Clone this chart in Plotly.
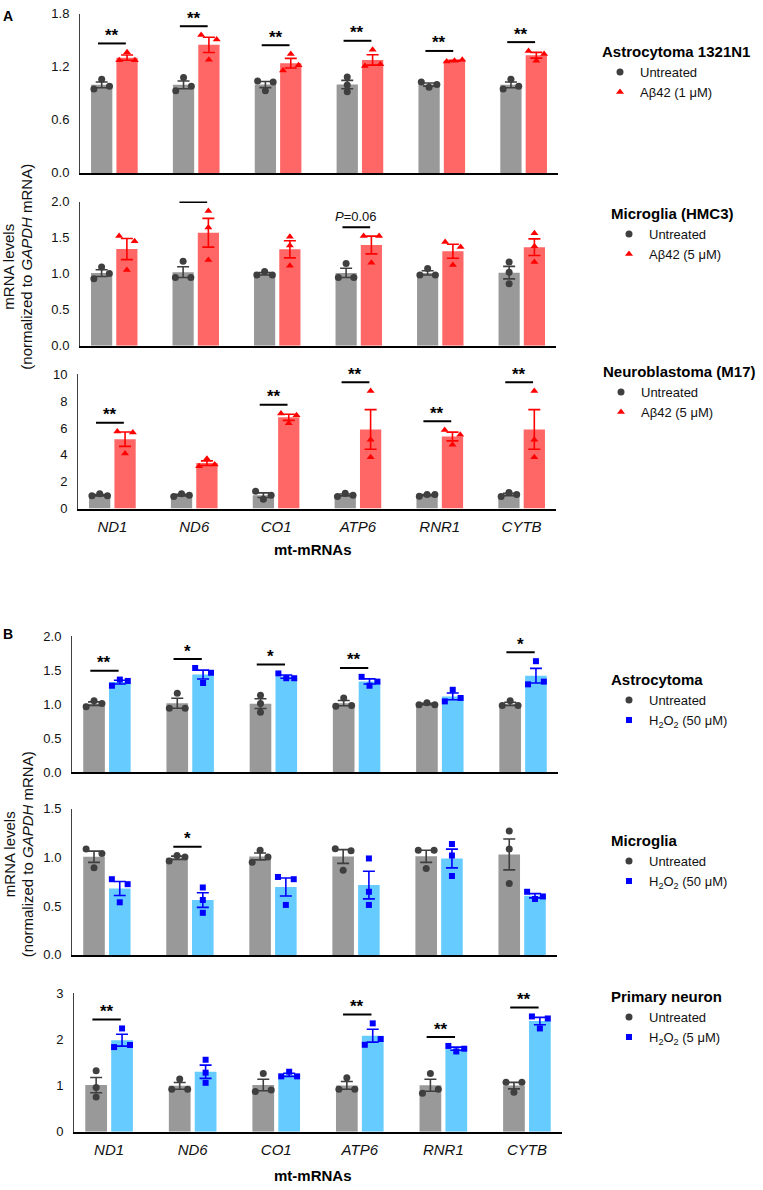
import numpy as np
import plotly.graph_objects as go

# ---------------- data ----------------
categories = ["ND1", "ND6", "CO1", "ATP6", "RNR1", "CYTB"]

# Panel A: Abeta42 treatment
a1_untreated = [[0.95, 1.06, 0.98], [0.93, 1.08, 0.98], [1.04, 0.93, 1.03],
                [1.085, 0.995, 0.92], [1.03, 0.97, 1.0], [0.95, 1.06, 0.98]]
a1_abeta = [[1.275, 1.365, 1.275], [1.56, 1.51, 1.28], [1.16, 1.345, 1.22],
            [1.21, 1.395, 1.23], [1.26, 1.27, 1.28], [1.38, 1.27, 1.345]]
a1_sig = ["**", "**", "**", "**", "**", "**"]
a1_yticks = [0.0, 0.6, 1.2, 1.8]

a2_untreated = [[1.09, 0.93, 1.0], [0.945, 1.17, 0.945], [0.98, 1.03, 0.98],
                [0.945, 1.14, 0.945], [0.98, 1.07, 0.98], [1.16, 1.02, 0.86]]
a2_abeta = [[1.52, 1.45, 1.05], [1.87, 1.64, 1.19], [1.51, 1.39, 1.11],
            [1.52, 1.15, 1.52], [1.44, 1.12, 1.37], [1.56, 1.38, 1.16]]
a2_sig = [None, "", None, "P=0.06", None, None]
a2_yticks = [0.0, 0.5, 1.0, 1.5, 2.0]

a3_untreated = [[0.95, 1.1, 0.95], [0.9, 1.1, 1.0], [1.3, 0.7, 1.0],
                [0.9, 1.15, 1.0], [0.92, 1.05, 1.05], [0.9, 1.2, 1.05]]
a3_abeta = [[5.74, 4.1, 5.66], [3.16, 3.72, 3.28], [7.08, 6.35, 6.96],
            [8.75, 5.12, 3.82], [5.85, 4.75, 5.5], [8.75, 5.12, 3.82]]
a3_sig = ["**", None, "**", "**", "**", "**"]
a3_yticks = [0, 2, 4, 6, 8, 10]

# Panel B: H2O2 treatment
b1_untreated = [[0.96, 1.05, 1.01], [0.94, 1.16, 0.94], [1.13, 1.01, 0.88],
                [0.97, 1.09, 0.98], [0.99, 1.02, 0.99], [0.98, 1.05, 0.98]]
b1_h2o2 = [[1.27, 1.36, 1.34], [1.53, 1.31, 1.46], [1.45, 1.38, 1.38],
           [1.40, 1.27, 1.33], [1.04, 1.21, 1.09], [1.29, 1.63, 1.33]]
b1_sig = ["**", "*", "*", "**", None, "*"]
b1_yticks = [0.0, 0.5, 1.0, 1.5, 2.0]

b2_untreated = [[1.087, 0.895, 1.04], [0.963, 1.02, 1.006], [1.074, 0.952, 1.006],
                [1.09, 0.87, 1.07], [1.074, 0.888, 1.074], [1.273, 1.087, 0.733]]
b2_h2o2 = [[0.777, 0.54, 0.726], [0.692, 0.564, 0.432], [0.80, 0.513, 0.777],
           [0.99, 0.648, 0.513], [1.138, 1.02, 0.81], [0.648, 0.574, 0.60]]
b2_sig = [None, "*", None, None, None, None]
b2_yticks = [0.0, 0.5, 1.0, 1.5]

b3_untreated = [[1.32, 0.96, 0.75], [0.92, 1.14, 0.92], [0.87, 1.26, 0.906],
                [0.92, 1.17, 0.92], [0.835, 1.263, 0.92], [1.07, 0.857, 1.07]]
b3_h2o2 = [[1.835, 2.24, 1.88], [1.56, 1.28, 1.06], [1.2, 1.3, 1.2],
           [1.885, 2.35, 2.01], [1.86, 1.74, 1.80], [2.50, 2.24, 2.456]]
b3_sig = ["**", None, None, "**", "**", "**"]
b3_yticks = [0, 1, 2, 3]

legend_titles = ["Astrocytoma 1321N1", "Microglia (HMC3)", "Neuroblastoma (M17)",
                 "Astrocytoma", "Microglia", "Primary neuron"]
legend_names = [
    ["Untreated", "Aβ42 (1 μM)"],
    ["Untreated", "Aβ42 (5 μM)"],
    ["Untreated", "Aβ42 (5 μM)"],
    ["Untreated", "H<sub>2</sub>O<sub>2</sub> (50 μM)"],
    ["Untreated", "H<sub>2</sub>O<sub>2</sub> (50 μM)"],
    ["Untreated", "H<sub>2</sub>O<sub>2</sub> (5 μM)"],
]
x_title = "mt-mRNAs"

# ---------------- layout / style ----------------
W, H = 763, 1190
FONT = "Arial, 'Liberation Sans', sans-serif"
TXT = "#111111"

STYLE = {
    "abeta": dict(bar="#FF6666", pt="#FF0000", sym="triangle-up", size=7),
    "h2o2": dict(bar="#66CCFF", pt="#0000FF", sym="square", size=6),
}
CTRL = dict(bar="#999999", pt="#3F3F3F", sym="circle", size=7)

panels = [
    dict(c=a1_untreated, t=a1_abeta, sig=a1_sig, yt=a1_yticks, fmt=".1f", kind="abeta",
         xpx=(80, 558), ypx=(7, 168), leg=(600, 31), bottom=False),
    dict(c=a2_untreated, t=a2_abeta, sig=a2_sig, yt=a2_yticks, fmt=".1f", kind="abeta",
         xpx=(80, 556), ypx=(197, 343), leg=(609, 195), bottom=False),
    dict(c=a3_untreated, t=a3_abeta, sig=a3_sig, yt=a3_yticks, fmt="d", kind="abeta",
         xpx=(78, 556), ypx=(372, 508), leg=(601, 355), bottom=True),
    dict(c=b1_untreated, t=b1_h2o2, sig=b1_sig, yt=b1_yticks, fmt=".1f", kind="h2o2",
         xpx=(72, 558), ypx=(637, 775), leg=(609, 667), bottom=False),
    dict(c=b2_untreated, t=b2_h2o2, sig=b2_sig, yt=b2_yticks, fmt=".1f", kind="h2o2",
         xpx=(72, 557), ypx=(812, 960), leg=(609, 830), bottom=False),
    dict(c=b3_untreated, t=b3_h2o2, sig=b3_sig, yt=b3_yticks, fmt="d", kind="h2o2",
         xpx=(74, 562), ypx=(999, 1139), leg=(609, 988), bottom=True),
]

XR = [-0.42, 5.42]
OFF = 0.155
BW = 0.26
SPREAD = 0.095
OVERLAP_PX = 6.5


def swarm(vals, ppu):
    """x offsets so that overlapping points sit side by side."""
    order = sorted(range(len(vals)), key=lambda k: vals[k])
    clusters, cur = [], [order[0]]
    for k in order[1:]:
        if (vals[k] - vals[cur[-1]]) * ppu < OVERLAP_PX:
            cur.append(k)
        else:
            clusters.append(cur)
            cur = [k]
    clusters.append(cur)
    offs = [0.0] * len(vals)
    for cl in clusters:
        cl = sorted(cl)
        n = len(cl)
        pos = [0.0] if n == 1 else ([-SPREAD, SPREAD] if n == 2 else [-SPREAD, 0.0, SPREAD])
        for k, p in zip(cl, pos):
            offs[k] = p
    return offs


fig = go.Figure()
annotations = []
shapes = []
layout = {}

for pi, p in enumerate(panels):
    n = pi + 1
    xa = "x" if n == 1 else f"x{n}"
    ya = "y" if n == 1 else f"y{n}"
    legname = "legend" if n == 1 else f"legend{n}"
    ytop, ybot = p["ypx"]
    ymax = p["yt"][-1]
    ppu = (ybot - ytop) / ymax
    st = STYLE[p["kind"]]

    groups = [(p["c"], CTRL, -OFF, "#3F3F3F"), (p["t"], st, OFF, st["pt"])]
    tops = []
    for gi, (pts, sty, off, ecol) in enumerate(groups):
        means = [float(np.mean(v)) for v in pts]
        sems = [float(np.std(v, ddof=1) / np.sqrt(len(v))) for v in pts]
        tops.append([max(max(v), m + s) for v, m, s in zip(pts, means, sems)])
        fig.add_trace(go.Bar(
            x=[i + off for i in range(len(categories))], y=means, width=BW,
            marker=dict(color=sty["bar"], line=dict(width=0)), opacity=1,
            error_y=dict(type="data", array=sems, visible=True, color=ecol,
                         thickness=1.6, width=6),
            xaxis=xa, yaxis=ya, showlegend=False, hoverinfo="skip"))
    for gi, (pts, sty, off, ecol) in enumerate(groups):
        xs, ys = [], []
        for i, v in enumerate(pts):
            for o, val in zip(swarm(v, ppu), v):
                xs.append(i + off + o)
                ys.append(val)
        fig.add_trace(go.Scatter(
            x=xs, y=ys, mode="markers", name=legend_names[pi][gi],
            marker=dict(symbol=sty["sym"], size=sty["size"], color=sty["pt"], line=dict(width=0)),
            xaxis=xa, yaxis=ya, legend=legname, cliponaxis=False, hoverinfo="skip"))

    # significance bars
    for i, lab in enumerate(p["sig"]):
        if lab is None:
            continue
        yl = max(tops[0][i], tops[1][i]) + 9 / ppu
        shapes.append(dict(type="line", xref=xa, yref=ya, x0=i - 0.20, x1=i + 0.14,
                           y0=yl, y1=yl, line=dict(color="black", width=2)))
        if lab == "":
            continue
        if lab.startswith("P="):
            annotations.append(dict(xref=xa, yref=ya, x=i - 0.03, y=yl, yanchor="middle",
                                    yshift=11, showarrow=False,
                                    text="<i>P</i>=" + lab[2:],
                                    font=dict(family=FONT, size=13, color=TXT)))
        else:
            annotations.append(dict(xref=xa, yref=ya, x=i - 0.03, y=yl, yanchor="middle",
                                    yshift=8, showarrow=False, text="<b>" + lab + "</b>",
                                    font=dict(family=FONT, size=17, color="black")))

    layout["xaxis" if n == 1 else f"xaxis{n}"] = dict(
        domain=[p["xpx"][0] / W, p["xpx"][1] / W], range=XR, anchor=ya,
        showline=True, linecolor="black", linewidth=2, showgrid=False, zeroline=False,
        tickvals=list(range(len(categories))),
        ticktext=["<i>" + c + "</i>" for c in categories],
        showticklabels=p["bottom"], ticks="", ticklabelstandoff=3,
        tickfont=dict(family=FONT, size=15, color=TXT), fixedrange=True)
    layout["yaxis" if n == 1 else f"yaxis{n}"] = dict(
        domain=[1 - ybot / H, 1 - ytop / H], range=[0, ymax], anchor=xa,
        tickvals=p["yt"], tickformat=p["fmt"], showline=True, linecolor="#404040",
        linewidth=1, showgrid=False, zeroline=False, ticks="", ticklabelstandoff=7,
        tickfont=dict(family=FONT, size=13, color=TXT), fixedrange=True)
    layout[legname] = dict(
        x=p["leg"][0] / W, y=1 - p["leg"][1] / H, xanchor="left", yanchor="top",
        bgcolor="rgba(0,0,0,0)", borderwidth=0, tracegroupgap=0,
        title=dict(text="<b>" + legend_titles[pi] + "</b>", side="top",
                   font=dict(family=FONT, size=15, color="black")),
        font=dict(family=FONT, size=13, color=TXT))

# axis titles and panel letters
for ycen in [549, 1183]:
    annotations.append(dict(xref="paper", yref="paper", x=313 / W, y=1 - ycen / H,
                            xanchor="center", yanchor="middle", showarrow=False,
                            text="<b>" + x_title + "</b>",
                            font=dict(family=FONT, size=15, color="black")))
for ycen in [263, 858]:
    annotations.append(dict(xref="paper", yref="paper", x=9 / W, y=1 - ycen / H,
                            xanchor="center", yanchor="middle", showarrow=False,
                            textangle=-90, text="mRNA levels",
                            font=dict(family=FONT, size=15, color=TXT)))
    annotations.append(dict(xref="paper", yref="paper", x=27 / W, y=1 - ycen / H,
                            xanchor="center", yanchor="middle", showarrow=False,
                            textangle=-90, text="(normalized to <i>GAPDH</i> mRNA)",
                            font=dict(family=FONT, size=15, color=TXT)))
for lab, ycen in [("A", 9), ("B", 635)]:
    annotations.append(dict(xref="paper", yref="paper", x=8 / W, y=1 - ycen / H,
                            xanchor="center", yanchor="middle", showarrow=False,
                            text="<b>" + lab + "</b>",
                            font=dict(family=FONT, size=14, color="black")))

fig.update_layout(
    width=W, height=H, margin=dict(l=0, r=0, t=0, b=0, pad=0),
    paper_bgcolor="white", plot_bgcolor="white", barmode="overlay",
    showlegend=True, annotations=annotations, shapes=shapes,
    font=dict(family=FONT, color=TXT), **layout)

fig.write_html(
    "out.html",
    config={"displayModeBar": False, "staticPlot": True},
    post_script=(
        "document.documentElement.style.margin='0';"
        "document.body.style.margin='0';"
        "document.body.style.overflow='hidden';"
        "document.documentElement.style.overflow='hidden';"
        "var gd=document.getElementById('{plot_id}');"
        "gd.style.position='fixed';gd.style.top='0px';gd.style.left='0px';"
    ))
